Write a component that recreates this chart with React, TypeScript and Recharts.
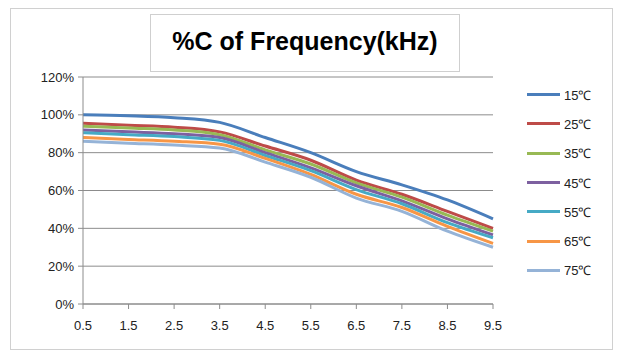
import { LineChart, Line, XAxis, YAxis, CartesianGrid, Legend } from "recharts";

const freqs = [0.5, 1.5, 2.5, 3.5, 4.5, 5.5, 6.5, 7.5, 8.5, 9.5];
const yTicks = [0, 20, 40, 60, 80, 100, 120];

const t15 = [100, 99.5, 98.5, 96, 88, 80, 70, 63, 55, 45];
const t25 = [95.5, 94.5, 93.5, 91, 83.5, 76, 65.5, 58, 49, 40];
const t35 = [94, 93, 92, 89.5, 81.5, 74, 64, 56.5, 47, 38.5];
const t45 = [92, 91, 90, 88, 80, 72, 62.5, 54.5, 45, 36.5];
const t55 = [90.5, 89.5, 88.5, 86.5, 78.5, 70.5, 60.5, 53, 43, 35];
const t65 = [88, 87, 86, 84.5, 77, 68.5, 58, 51, 41, 32];
const t75 = [86, 85, 84, 82.5, 75, 67, 56, 49, 38.5, 30];

const series = [
  { key: "t15", name: "15℃", color: "#4A7EBB", values: t15 },
  { key: "t25", name: "25℃", color: "#BE4B48", values: t25 },
  { key: "t35", name: "35℃", color: "#98B954", values: t35 },
  { key: "t45", name: "45℃", color: "#7D60A0", values: t45 },
  { key: "t55", name: "55℃", color: "#46AAC5", values: t55 },
  { key: "t65", name: "65℃", color: "#F79646", values: t65 },
  { key: "t75", name: "75℃", color: "#95B3D7", values: t75 },
];

const data = freqs.map((f, i) => {
  const row: Record<string, number> = { f };
  series.forEach(s => { row[s.key] = s.values[i]; });
  return row;
});

const font = "'Liberation Sans', Arial, sans-serif";

function LegendBox() {
  return (
    <div>
      {series.map(s => (
        <div key={s.key} style={{ display: "flex", alignItems: "center", height: 29.3 }}>
          <div style={{ width: 33, height: 3, background: s.color }} />
          <span style={{ marginLeft: 4, fontSize: 13, color: "#222", fontFamily: font }}>{s.name}</span>
        </div>
      ))}
    </div>
  );
}

export default function App() {
  return (
    <div style={{ position: "absolute", left: 0, top: 0, width: 619, height: 353, background: "#fff" }}>
      <div style={{ position: "absolute", left: 10, top: 8, width: 601, height: 340, border: "1px solid #d0d0d0" }} />
      <LineChart
        width={619}
        height={353}
        data={data}
        margin={{ top: 77, right: 126, bottom: 0, left: 10 }}
        style={{ position: "absolute", left: 0, top: 0 }}
      >
        <CartesianGrid vertical={false} stroke="#8c8c8c" />
        <XAxis
          dataKey="f"
          type="number"
          domain={[0.5, 9.5]}
          ticks={freqs}
          stroke="#8c8c8c"
          tickSize={5}
          tickMargin={12}
          tick={{ fill: "#222", fontSize: 13, fontFamily: font }}
          height={49}
        />
        <YAxis
          domain={[0, 120]}
          ticks={yTicks}
          tickFormatter={v => `${v}%`}
          stroke="#8c8c8c"
          width={73}
          tickSize={5}
          tickMargin={4}
          tick={{ fill: "#222", fontSize: 13, fontFamily: font }}
        />
        <Legend
          layout="horizontal"
          verticalAlign="middle"
          align="center"
          content={() => <LegendBox />}
          wrapperStyle={{ left: 527, top: 80, width: 84 }}
        />
        {series.map(s => (
          <Line
            key={s.key}
            dataKey={s.key}
            name={s.name}
            type="monotone"
            stroke={s.color}
            strokeWidth={3}
            dot={false}
            isAnimationActive={false}
          />
        ))}
      </LineChart>
      <div
        style={{
          position: "absolute",
          left: 150,
          top: 14,
          width: 310,
          height: 58,
          border: "1px solid #cfcfcf",
          background: "#fff",
          display: "flex",
          justifyContent: "center",
          alignItems: "center",
          fontFamily: font,
          fontWeight: "bold",
          fontSize: 25,
          color: "#000",
          paddingBottom: 4,
          boxSizing: "border-box",
        }}
      >
        %C of Frequency(kHz)
      </div>
    </div>
  );
}
